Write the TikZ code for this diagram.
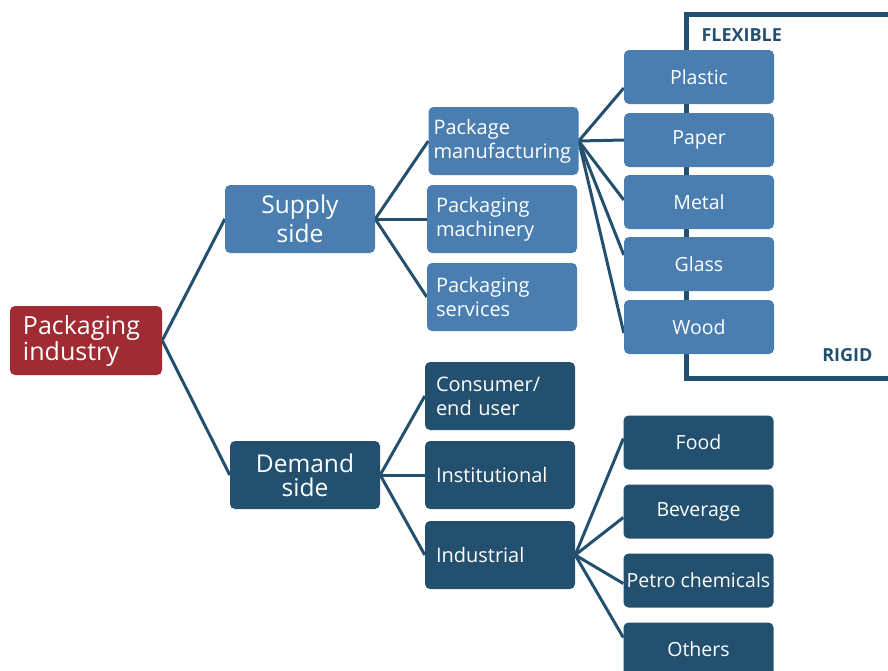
\documentclass[tikz,border=0pt]{standalone}
\usepackage{fontspec}
\setmainfont{Open Sans}
\usetikzlibrary{backgrounds}
\definecolor{lb}{HTML}{4A7EB1}
\definecolor{db}{HTML}{23506F}
\definecolor{rd}{HTML}{A02B33}
\begin{document}
\global\lineskiplimit=-20pt
\begin{tikzpicture}[x=1pt,y=-1pt,
  box/.style={rounded corners=5pt, text=white, inner sep=0pt, minimum width=150pt, minimum height=68pt, align=center},
  light/.style={box, fill=lb},
  dark/.style={box, fill=db},
  small/.style={minimum height=54pt},
  lt5/.style={align=left, inner xsep=5pt, text width=140pt},
  lt9/.style={align=left, inner xsep=9pt, text width=132pt},
  lt11/.style={align=left, inner xsep=11pt, text width=128pt},
  conn/.style={db, line width=3pt},
  lab/.style={text=db, font=\bfseries\fontsize{18}{20}\selectfont}]
\useasboundingbox (0,0) rectangle (888,670);
% nodes
\node[lab, anchor=west] (flex) at (698,35) {FLEXIBLE};
\node[lab, anchor=east] (rigid) at (876,355) {RIGID};
\node[box, fill=rd, minimum width=152pt, minimum height=69pt, align=left, inner xsep=13pt, text width=126pt, font=\fontsize{25}{22}\selectfont] (pi) at (86,340.5) {Packaging\\industry};
\node[light, font=\fontsize{24.5}{29}\selectfont] (ss) at (300,219) {Supply\\side};
\node[dark, font=\fontsize{24.5}{24}\selectfont] (ds) at (305,475) {Demand\\side};
\begin{scope}[font=\fontsize{20}{24}\selectfont]
\node[light, lt5] (pm) at (503.5,141) {Package\\manufacturing};
\node[light, lt9] (mach) at (502,219) {Packaging\\machinery};
\node[light, lt9] (serv) at (502,297) {Packaging\\services};
\node[dark, lt11] (cons) at (500,396) {Consumer/\\end user};
\node[dark, lt11] (inst) at (500,475) {Institutional};
\node[dark, lt11] (indu) at (500,555) {Industrial};
\end{scope}
\begin{scope}[font=\fontsize{19.5}{22}\selectfont]
\node[light, small] (plastic) at (699,77) {Plastic};
\node[light, small] (paper) at (699,140) {Paper};
\node[light, small] (metal) at (699,202) {Metal};
\node[light, small] (glass) at (699,264) {Glass};
\node[light, small] (wood) at (699,327) {Wood};
\node[dark, small] (food) at (698.5,442.5) {Food};
\node[dark, small] (bev) at (698.5,511.5) {Beverage};
\node[dark, small] (petro) at (698.5,580.5) {Petro chemicals};
\node[dark, small] (others) at (698.5,649.5) {Others};
\end{scope}
% frame and connectors behind the nodes
\begin{scope}[on background layer]
\draw[db, line width=5pt] (892,14) -- (686,14) -- (686,378) -- (892,378);
\draw[conn] (pi.east) -- (ss.west);
\draw[conn] (pi.east) -- (ds.west);
\draw[conn] (ss.east) -- (pm.west);
\draw[conn] (ss.east) -- (mach.west);
\draw[conn] (ss.east) -- (serv.west);
\draw[conn] (ds.east) -- (cons.west);
\draw[conn] (ds.east) -- (inst.west);
\draw[conn] (ds.east) -- (indu.west);
\draw[conn] (pm.east) -- ([yshift=-11pt]plastic.west);
\draw[conn] (pm.east) -- (paper.west);
\draw[conn] (pm.east) -- ([yshift=2pt]metal.west);
\draw[conn] (pm.east) -- ([yshift=9pt]glass.west);
\draw[conn] (pm.east) -- ([yshift=-6pt]wood.west);
\draw[conn] (indu.east) -- ([yshift=4pt]food.west);
\draw[conn] (indu.east) -- ([yshift=-6pt]bev.west);
\draw[conn] (indu.east) -- ([yshift=-3pt]petro.west);
\draw[conn] (indu.east) -- ([yshift=12pt]others.west);
\end{scope}
\end{tikzpicture}
\end{document}
